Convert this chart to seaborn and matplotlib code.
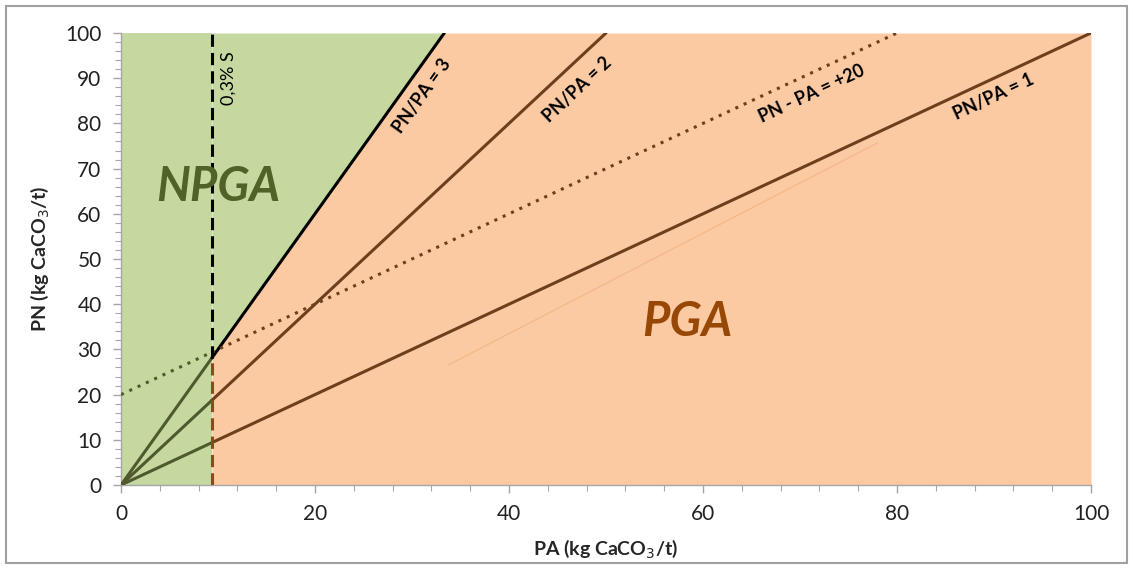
import numpy as np
import pandas as pd
import matplotlib
matplotlib.use("Agg")
import matplotlib.pyplot as plt
import seaborn as sns

# ---- data ----
pa_limit = 9.375            # 0.3 % S  -> PA = 9.375 kg CaCO3/t
ratios = [3, 2, 1]          # PN/PA lines
nnp_offset = 20             # PN - PA = +20
x_ticks = [0, 20, 40, 60, 80, 100]
y_ticks = [0, 10, 20, 30, 40, 50, 60, 70, 80, 90, 100]
ratio_labels = ["PN/PA = 3", "PN/PA = 2", "PN/PA = 1"]
ratio_label_pos = [(31.0, 86.0), (47.0, 87.5), (90.0, 85.8)]
offset_label = "PN - PA = +20"
offset_label_pos = (71.2, 86.5)
faint_x = [33.7, 78.0]
faint_y = [26.5, 75.7]

sns.set_theme(style="white")
plt.rcParams['font.family'] = ['Lato', 'DejaVu Sans']

GREEN = "#c4d89f"
ORANGE = "#fbcaa3"
BROWN = "#6e3f1c"
OLIVE = "#4e5a2e"

fig = plt.figure(figsize=(11.33, 5.69), dpi=100)
ax = fig.add_axes([121/1133, 1-485/569, (1091-121)/1133, (485-33)/569])
ax.set_xlim(0, 100)
ax.set_ylim(0, 100)

# regions
xg1 = np.array([0, pa_limit])
ax.fill_between(xg1, 0, 100, color=GREEN, lw=0, zorder=0)
xg2 = np.linspace(pa_limit, 100/ratios[0], 50)
ax.fill_between(xg2, ratios[0]*xg2, 100, color=GREEN, lw=0, zorder=0)
xo = np.linspace(pa_limit, 100, 400)
ax.fill_between(xo, 0, np.minimum(ratios[0]*xo, 100), color=ORANGE, lw=0, zorder=0)

# faint artifact line
sns.lineplot(x=faint_x, y=faint_y, color="#f5b585", lw=0.8, ax=ax, zorder=1)

# ratio lines
for r in ratios:
    xa = np.array([0, pa_limit])
    sns.lineplot(x=xa, y=r*xa, color=OLIVE, lw=2.2, ax=ax, zorder=3)
    xb = np.array([pa_limit, min(100, 100/r)])
    sns.lineplot(x=xb, y=r*xb, color=("black" if r == 3 else BROWN), lw=2.2, ax=ax, zorder=3)

# PN - PA = +20 dotted
xa = np.array([0, pa_limit])
ax.plot(xa, xa + nnp_offset, color=OLIVE, lw=2.2, ls=(0, (1, 2)), zorder=3)
xb = np.array([pa_limit, 100 - nnp_offset])
ax.plot(xb, xb + nnp_offset, color=BROWN, lw=2.2, ls=(0, (1, 2)), zorder=3)

# vertical 0.3% S line
ax.plot([pa_limit, pa_limit], [ratios[0]*pa_limit, 100], color="black", lw=2.2,
        ls=(0, (4, 2)), zorder=4)
ax.plot([pa_limit, pa_limit], [0, ratios[0]*pa_limit], color="#8a4a1c", lw=2.2,
        ls=(0, (4, 2)), zorder=4)

# labels on lines
def ang(slope):
    p1 = ax.transData.transform((0, 0))
    p2 = ax.transData.transform((10, 10*slope))
    return np.degrees(np.arctan2(p2[1]-p1[1], p2[0]-p1[0]))

for r, lab, (lx, ly) in zip(ratios, ratio_labels, ratio_label_pos):
    ax.text(lx, ly, lab, rotation=ang(r), rotation_mode="anchor", ha="center", va="center",
            fontsize=13, fontweight="bold", color="black", zorder=5)
ax.text(offset_label_pos[0], offset_label_pos[1], offset_label, rotation=ang(1),
        rotation_mode="anchor", ha="center", va="center", fontsize=13, fontweight="bold",
        color="black", zorder=5)
ax.text(11.1, 90.0, "0,3% S", rotation=90, ha="center", va="center", fontsize=13,
        color="black", zorder=5)

ax.text(10.0, 66.0, "NPGA", ha="center", va="center", fontsize=34, fontweight="bold",
        fontstyle="italic", color="#4f6228", zorder=5)
ax.text(58.4, 36.0, "PGA", ha="center", va="center", fontsize=34, fontweight="bold",
        fontstyle="italic", color="#974706", zorder=5)

# axes styling
ax.set_xticks(x_ticks)
ax.set_yticks(y_ticks)
ax.set_xticks(np.arange(0, 101, 4), minor=True)
ax.set_yticks(np.arange(0, 101, 2), minor=True)
ax.tick_params(axis="both", which="major", direction="out", length=6, width=1,
               color="#a6a6a6", labelsize=15, labelcolor="#222222", pad=8,
               bottom=True, left=True)
ax.tick_params(axis="both", which="minor", direction="out", length=4, width=0.8,
               color="#a6a6a6", bottom=True, left=True)
for s in ["top", "right"]:
    ax.spines[s].set_visible(False)
for s in ["left", "bottom"]:
    ax.spines[s].set_color("#a6a6a6")
    ax.spines[s].set_linewidth(1)

ax.set_xlabel("PA (kg CaCO$_3$/t)", fontsize=14, fontweight="bold", labelpad=9)
ax.set_ylabel("PN (kg CaCO$_3$/t)", fontsize=14, fontweight="bold", labelpad=10)

# figure border
fig.patches.append(plt.Rectangle((6/1133, 6/569), 1-12/1133, 1-12/569, transform=fig.transFigure,
                                 fill=False, edgecolor="#a0a0a0", lw=1.5))

fig.savefig("out.png", dpi=100)
